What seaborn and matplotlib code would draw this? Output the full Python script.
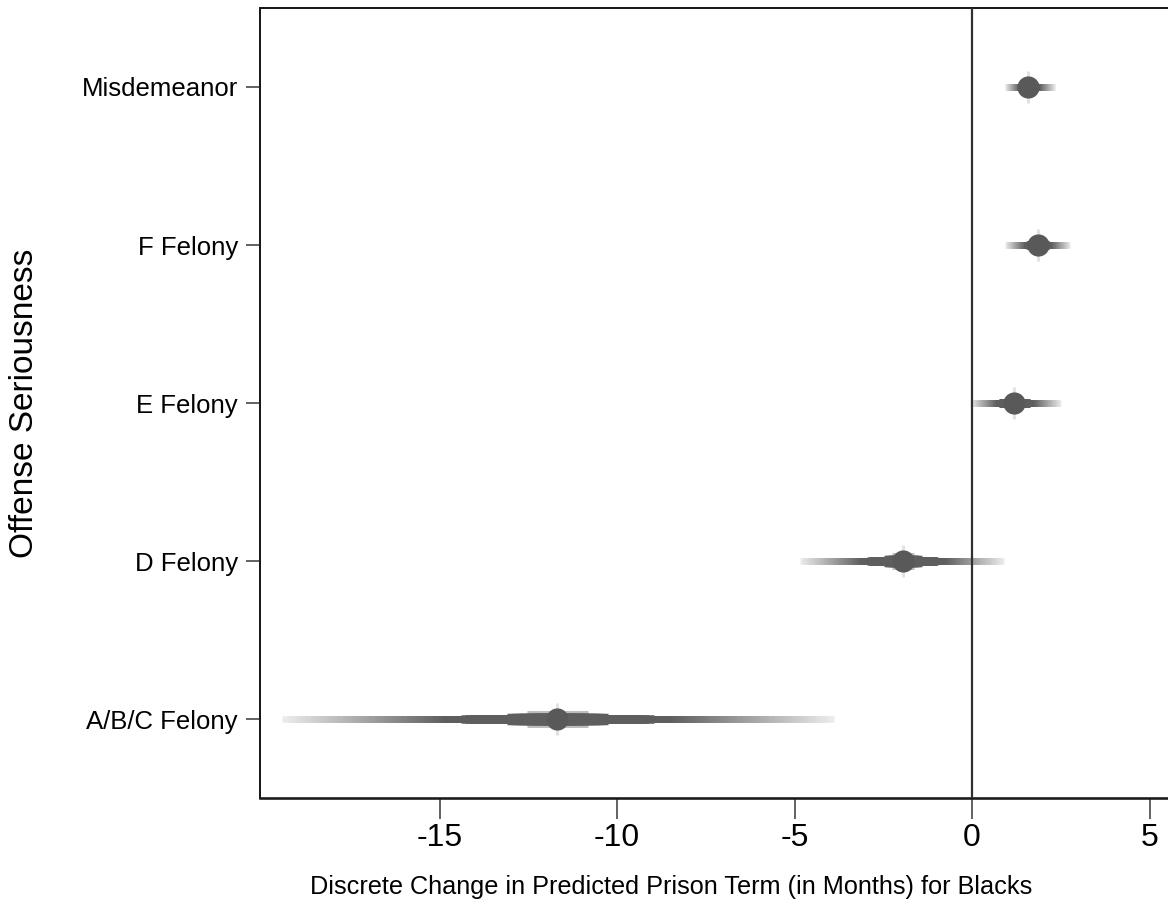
import numpy as np
import pandas as pd
import matplotlib
matplotlib.use("Agg")
import matplotlib.pyplot as plt
import seaborn as sns

# ---- data ----
categories = ["Misdemeanor", "F Felony", "E Felony", "D Felony", "A/B/C Felony"]
estimate = [1.58, 1.86, 1.18, -1.94, -11.69]
lower = [0.93, 0.93, -0.06, -4.85, -19.44]
upper = [2.34, 2.76, 2.50, 0.90, -3.89]
xticks = [-15, -10, -5, 0, 5]
xlabel = "Discrete Change in Predicted Prison Term (in Months) for Blacks"
ylabel = "Offense Seriousness"

sns.set_style("white")
plt.rcParams["font.family"] = ["Liberation Sans", "DejaVu Sans"]
plt.rcParams["text.color"] = "black"
plt.rcParams["axes.labelcolor"] = "black"
plt.rcParams["xtick.color"] = "black"
plt.rcParams["ytick.color"] = "black"

W, H = 1168, 901
fig = plt.figure(figsize=(W / 100, H / 100), dpi=100)
left_px, right_px, top_px, bottom_px = 260, 1168, 8, 798
ax = fig.add_axes([left_px / W, 1 - bottom_px / H,
                   (right_px - left_px) / W, (bottom_px - top_px) / H])

df = pd.DataFrame({"category": categories, "estimate": estimate,
                   "lower": lower, "upper": upper})
n = len(df)
df["ypos"] = np.arange(n)[::-1]  # Misdemeanor on top

px = 0.72  # points per pixel at 100 dpi

# graded confidence bands
N = 60
for _, r in df.iterrows():
    est, lo, hi, y = r["estimate"], r["lower"], r["upper"], r["ypos"]
    # light bulge near the estimate
    f0 = 0.11
    ax.hlines(y, est - f0 * (est - lo), est + f0 * (hi - est),
              color="#bdbdbd", lw=17 * px, zorder=2, capstyle="butt")
    # vertical light spike
    ax.vlines(est, y - 0.1, y + 0.1, color="#e2e2e2", lw=3 * px, zorder=1.9)
    for i in range(N):
        f = 1 - i / N
        t = np.clip((1 - f) / 0.58, 0, 1)
        g = 0.92 - 0.55 * t
        if f > 0.35:
            lw = 6.5
        elif f > 0.19:
            lw = 8.5
        else:
            lw = 11.5
        ax.hlines(y, est - f * (est - lo), est + f * (hi - est),
                  color=(g, g, g), lw=lw * px, zorder=3, capstyle="butt")

ax.axvline(0, color="#303030", lw=2.2 * px, zorder=4)

sns.scatterplot(data=df, x="estimate", y="ypos", ax=ax, s=255,
                color="#595959", edgecolor="#595959", linewidth=0, zorder=5,
                legend=False)

ax.set_xlim(-20.06, (1168 - 972) / 35.5)
ax.set_ylim(-0.5, n - 0.5)
ax.set_yticks(df["ypos"])
ax.set_yticklabels(df["category"], fontsize=18.5)
ax.set_xticks(xticks)
ax.set_xticklabels([str(v) for v in xticks], fontsize=23)

ax.tick_params(axis="y", direction="out", length=10, width=1.5 * px,
               color="#333333", pad=6, left=True)
ax.tick_params(axis="x", direction="out", length=15, width=1.5 * px,
               color="#333333", pad=3, bottom=True)

for s in ["left", "bottom", "top"]:
    ax.spines[s].set_visible(True)
    ax.spines[s].set_color("#1a1a1a")
ax.spines["left"].set_linewidth(2 * px)
ax.spines["bottom"].set_linewidth(2.6 * px)
ax.spines["top"].set_linewidth(2 * px)
ax.spines["right"].set_visible(False)

ax.set_xlabel(xlabel, fontsize=18.2)
ax.set_ylabel(ylabel, fontsize=24)
ax.xaxis.set_label_coords(0.5 - (260 + 908 / 2 - 671) / 908, -0.098)
ax.yaxis.set_label_coords(-0.242, 0.5)

fig.savefig("out.png", dpi=100)
